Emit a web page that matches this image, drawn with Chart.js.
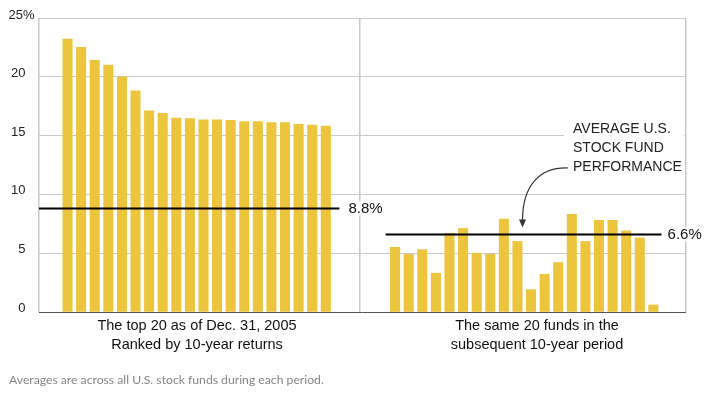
<!DOCTYPE html>
<html>
<head>
<meta charset="utf-8">
<script src="https://cdn.jsdelivr.net/npm/chart.js"></script>
<style>
  html, body { margin: 0; padding: 0; background: #fff; }
  #wrap { position: relative; width: 714px; height: 393px; }
</style>
</head>
<body>
<div id="wrap"><canvas id="fundChart" width="714" height="393"></canvas></div>
<script>
// top 20 funds ranked by 10-year return as of Dec. 31, 2005 (annualized %)
const top20Returns = [23.2, 22.5, 21.4, 21.0, 20.0, 18.8, 17.1, 16.9, 16.5, 16.45,
                      16.35, 16.35, 16.3, 16.2, 16.2, 16.1, 16.1, 15.95, 15.9, 15.8];
// the same 20 funds over the following 10 years
const next10Returns = [5.5, 4.9, 5.3, 3.3, 6.7, 7.1, 5.0, 4.9, 7.9, 6.0,
                       1.9, 3.2, 4.2, 8.3, 6.0, 7.8, 7.8, 6.9, 6.3, 0.6];
// average of all U.S. stock funds in each period
const avgTop = 8.8;
const avgNext = 6.6;
const yTicks = [0, 5, 10, 15, 20, 25];
const panelLabels = [
  ["The top 20 as of Dec. 31, 2005", "Ranked by 10-year returns"],
  ["The same 20 funds in the", "subsequent 10-year period"]
];
const calloutLines = ["AVERAGE U.S.", "STOCK FUND", "PERFORMANCE"];
const footnote = "Averages are across all U.S. stock funds during each period.";

const gold = '#ecc53c';
const gridGrey = '#c9c9c9';
const sans = '"Liberation Sans", Arial, sans-serif';

// slot layout on the x scale: left panel bars 1..20, right panel bars from 25.1
const xMin = -1.1, xMax = 46.5, divider = 22.5, rightStart = 25.1;

const ctx = document.getElementById("fundChart");

// labels, callout and note drawn on top
const overlay = {
  id: 'overlay',
  afterDraw(chart) {
    const c = chart.ctx;
    const y = chart.scales.y;
    const x = chart.scales.x;
    c.save();

    // y tick labels, sitting on their grid line
    c.font = '13px ' + sans;
    c.fillStyle = '#222';
    c.textAlign = 'right';
    c.textBaseline = 'alphabetic';
    yTicks.forEach(v => {
      const py = y.getPixelForValue(v);
      if (v === 25) c.fillText(v + '%', 34.5, py + 1);
      else c.fillText(String(v), 25.5, py);
    });

    // average value labels
    c.font = '15px ' + sans;
    c.textAlign = 'left';
    c.textBaseline = 'middle';
    const avgLabel = (val, xEnd, gap) => {
      const px = x.getPixelForValue(xEnd) + gap;
      const py = y.getPixelForValue(val);
      const w = c.measureText(val.toFixed(1) + '%').width;
      c.fillStyle = '#fff';
      c.fillRect(px - 2, py - 7, w + 4, 14);
      c.fillStyle = '#111';
      c.fillText(val.toFixed(1) + '%', px, py + 0.5);
    };
    avgLabel(avgTop, 21, 9);
    avgLabel(avgNext, 44.7, 6);

    // panel labels under the baseline
    c.font = '14.5px ' + sans;
    c.textAlign = 'center';
    c.fillStyle = '#111';
    [197, 537].forEach((cx, i) => {
      c.fillText(panelLabels[i][0], cx, 325.5);
      c.fillText(panelLabels[i][1], cx, 344.5);
    });

    // callout
    c.fillStyle = '#fff';
    c.fillRect(564, 118, 120, 58);
    c.font = '14px ' + sans;
    c.textAlign = 'left';
    c.fillStyle = '#222';
    calloutLines.forEach((t, i) => c.fillText(t, 573, 129 + i * 19));

    // curved arrow pointing at the right-hand average line
    const tipY = y.getPixelForValue(avgNext) - 7;
    c.strokeStyle = '#333';
    c.lineWidth = 1.2;
    c.beginPath();
    c.moveTo(568, 168);
    c.bezierCurveTo(540, 167, 522.5, 185, 522.5, tipY - 7);
    c.stroke();
    c.fillStyle = '#333';
    c.beginPath();
    c.moveTo(522.5, tipY);
    c.lineTo(519, tipY - 8);
    c.lineTo(526, tipY - 8);
    c.closePath();
    c.fill();

    // footnote
    c.font = '12.2px Lato, sans-serif';
    c.fillStyle = '#868686';
    c.textAlign = 'left';
    c.textBaseline = 'alphabetic';
    c.fillText(footnote, 9, 384);

    c.restore();
  }
};

const myChart = new Chart(ctx, {
  type: "bar",
  data: {
    datasets: [
      {
        label: "Top 20",
        data: top20Returns.map((v, i) => ({ x: i + 1, y: v })),
        backgroundColor: gold,
        barThickness: 9.4,
        grouped: false,
        order: 2,
      },
      {
        label: "Next 10 years",
        data: next10Returns.map((v, i) => ({ x: i + rightStart, y: v })),
        backgroundColor: gold,
        barThickness: 9.4,
        grouped: false,
        order: 2,
      },
      {
        type: "line",
        label: "Average",
        data: [{ x: xMin, y: avgTop }, { x: 21, y: avgTop }],
        borderColor: "#000",
        borderWidth: 2,
        pointRadius: 0,
        order: 1,
      },
      {
        type: "line",
        label: "Average later",
        data: [{ x: 24.4, y: avgNext }, { x: 44.7, y: avgNext }],
        borderColor: "#000",
        borderWidth: 2,
        pointRadius: 0,
        order: 1,
      },
    ],
  },
  options: {
    responsive: false,
    animation: false,
    layout: { padding: { top: 18, left: 39, right: 28, bottom: 81 } },
    plugins: { legend: { display: false }, tooltip: { enabled: false } },
    scales: {
      x: {
        type: "linear",
        min: xMin,
        max: xMax,
        offset: false,
        ticks: { display: false },
        grid: { color: gridGrey, offset: false, drawTicks: false, lineWidth: 1.5 },
        border: { display: false },
        afterBuildTicks: s => { s.ticks = [{ value: xMin }, { value: divider }, { value: xMax }]; },
        afterFit: s => { s.height = 0; },
      },
      y: {
        min: 0,
        max: 25,
        ticks: { display: false, stepSize: 5 },
        grid: {
          color: c => (c.tick && c.tick.value === 0 ? '#555' : gridGrey),
          drawTicks: false,
        },
        border: { display: false },
        afterFit: s => { s.width = 0; },
      },
    },
  },
  plugins: [overlay],
});
</script>
</body>
</html>
